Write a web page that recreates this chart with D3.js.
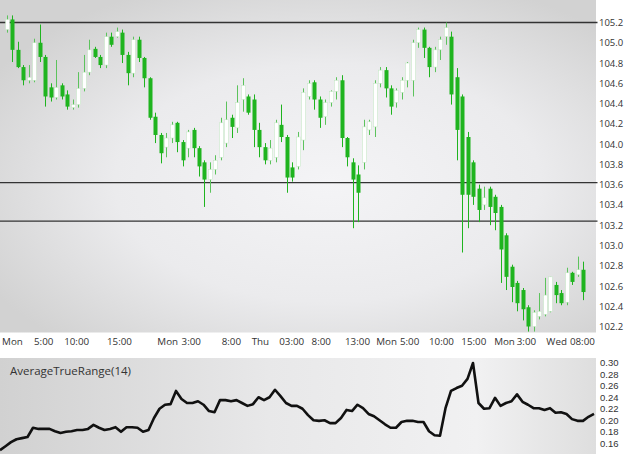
<!DOCTYPE html>
<html><head><meta charset="utf-8">
<script src="https://cdn.jsdelivr.net/npm/d3@7"></script>
<style>html,body{margin:0;padding:0;background:#fff;}svg{display:block;font-family:"Open Sans","Noto Sans",sans-serif;}</style>
</head><body><svg id="c" width="624" height="454"></svg>
<script>
// ---- data ----
const opens=[105.13,105.23,104.93,104.76,104.63,104.63,105.00,104.86,104.56,104.46,
104.58,104.49,104.36,104.39,104.55,104.71,104.94,104.86,104.78,105.06,
105.06,105.10,104.88,104.70,105.03,104.85,104.65,104.27,104.09,103.97,
104.06,104.21,104.02,103.96,104.14,103.96,103.82,103.65,103.75,103.87,
104.01,104.26,104.16,104.44,104.47,104.44,104.14,103.97,103.84,103.87,
104.19,104.07,103.77,103.78,104.04,104.47,104.61,104.44,104.27,104.41,
104.52,104.63,104.06,103.82,103.70,103.82,104.14,104.17,104.60,104.73,
104.55,104.41,104.51,104.63,104.63,105.00,105.13,104.95,104.76,104.93,
105.06,105.06,104.66,104.47,104.07,103.82,103.56,103.40,103.56,103.48,
103.38,103.10,102.79,102.63,102.56,102.39,102.20,102.30,102.32,102.35,
102.61,102.53,102.44,102.73,102.71,102.76];
const highs=[105.27,105.27,105.01,104.78,104.78,105.04,105.18,104.88,104.60,104.83,
104.60,104.53,104.44,104.71,104.88,105.03,104.96,104.88,105.10,105.10,
105.15,105.13,104.91,105.06,105.06,104.86,104.66,104.31,104.11,104.11,
104.22,104.22,104.04,104.14,104.16,103.98,103.84,103.82,103.89,104.26,
104.42,104.29,104.58,104.65,104.49,104.49,104.21,104.01,104.04,104.24,
104.39,104.09,103.82,104.12,104.55,104.63,104.63,104.47,104.44,104.53,
104.66,104.68,104.07,103.86,103.79,104.24,104.24,104.63,104.76,104.76,
104.58,104.55,104.66,104.81,105.03,105.15,105.15,104.96,104.96,105.06,
105.20,105.11,104.75,104.49,104.12,103.84,103.60,103.58,103.58,103.50,
103.40,103.12,102.81,102.65,102.58,102.41,102.36,102.53,102.68,102.69,
102.64,102.56,102.78,102.74,102.89,102.84];
const lows=[105.10,104.81,104.75,104.58,104.60,104.61,104.81,104.37,104.42,104.44,
104.44,104.34,104.34,104.36,104.52,104.68,104.85,104.75,104.75,104.96,
105.05,104.80,104.58,104.66,104.81,104.56,104.24,104.01,103.81,103.87,
104.01,103.92,103.78,103.87,103.87,103.68,103.38,103.52,103.70,103.84,
103.97,104.06,104.11,104.32,104.29,103.97,103.87,103.80,103.80,103.82,
104.02,103.52,103.63,103.75,103.94,104.44,104.34,104.16,104.19,104.37,
104.44,103.97,103.78,103.17,103.23,103.75,104.09,104.07,104.56,104.46,
104.29,104.36,104.44,104.56,104.47,104.95,104.85,104.66,104.71,104.83,
104.98,104.39,103.84,102.93,103.17,103.40,103.23,103.35,103.20,103.15,
102.63,102.56,102.44,102.35,102.26,102.15,102.15,102.27,102.30,102.34,
102.43,102.41,102.41,102.61,102.69,102.46];
const closes=[105.23,104.93,104.76,104.63,104.66,105.00,104.86,104.47,104.46,104.56,
104.47,104.37,104.39,104.55,104.71,104.93,104.86,104.78,105.06,104.98,
105.11,104.88,104.70,105.03,104.85,104.65,104.26,104.09,103.91,104.06,
104.19,104.02,103.84,104.12,103.96,103.78,103.65,103.75,103.84,104.21,
104.24,104.17,104.41,104.58,104.31,104.14,103.97,103.84,103.96,104.21,
104.07,103.67,103.67,104.07,104.51,104.60,104.44,104.26,104.41,104.52,
104.63,104.06,103.87,103.65,103.52,104.17,104.22,104.60,104.73,104.55,
104.37,104.53,104.63,104.80,105.00,105.13,104.95,104.76,104.93,105.03,
105.15,104.49,104.14,103.50,103.50,103.48,103.35,103.47,103.38,103.32,
102.96,102.69,102.59,102.43,102.37,102.20,102.34,102.35,102.51,102.69,
102.51,102.43,102.73,102.64,102.76,102.54];
const levels=[105.2,103.62,103.24];
const priceTicks=[102.2,102.4,102.6,102.8,103.0,103.2,103.4,103.6,103.8,104.0,104.2,104.4,104.6,104.8,105.0,105.2];
const timeLabels=["Mon","5:00","10:00","15:00","Mon","3:00","8:00","Thu","03:00","8:00","13:00","Mon","5:00","10:00","15:00","Mon","3:00","Wed","08:00"];
const timeLabelIdx=[0.9,6.6,12.6,20.4,29.2,33.5,40.8,46.1,51.8,57.2,63.8,69.1,73.3,79.1,85.0,90.6,94.6,100.1,104.8];
const atr=[0.148,0.155,0.162,0.167,0.169,0.171,0.187,0.185,0.185,0.185,
0.181,0.178,0.180,0.181,0.183,0.183,0.185,0.192,0.187,0.183,
0.185,0.188,0.180,0.188,0.188,0.187,0.180,0.183,0.204,0.220,
0.227,0.228,0.251,0.237,0.230,0.230,0.233,0.227,0.216,0.214,
0.235,0.235,0.233,0.235,0.230,0.225,0.228,0.240,0.235,0.240,
0.253,0.242,0.230,0.225,0.225,0.220,0.209,0.200,0.199,0.200,
0.195,0.195,0.204,0.218,0.216,0.227,0.221,0.211,0.207,0.200,
0.193,0.187,0.187,0.197,0.199,0.199,0.197,0.197,0.181,0.174,
0.173,0.221,0.251,0.256,0.260,0.272,0.2995,0.230,0.220,0.221,
0.239,0.225,0.230,0.233,0.245,0.232,0.227,0.221,0.221,0.218,
0.221,0.213,0.214,0.211,0.202,0.199,0.199,0.206,0.211];
const atrTicks=[0.16,0.18,0.20,0.22,0.24,0.26,0.28,0.30];
const atrTitle="AverageTrueRange(14)";

// ---- layout ----
const plotR=596;
const mainTop=0, mainBot=332.5, atrTop=358, atrBot=454;
const svg=d3.select("#c");
const defs=svg.append("defs");
const gm=defs.append("radialGradient").attr("id","gMain").attr("cx","55%").attr("cy","55%").attr("r","65%");
[["0%","#f4f4f6"],["55%","#ebebed"],["100%","#d2d2d2"]].forEach(s=>gm.append("stop").attr("offset",s[0]).attr("stop-color",s[1]));
const ga=defs.append("linearGradient").attr("id","gAtr").attr("x1","0").attr("x2","1").attr("y1","0").attr("y2","0");
[["0%","#d1d1d1"],["45%","#e8e8e9"],["80%","#f1f1f2"],["100%","#dedede"]].forEach(s=>ga.append("stop").attr("offset",s[0]).attr("stop-color",s[1]));

svg.append("rect").attr("x",0).attr("y",mainTop).attr("width",plotR).attr("height",mainBot-mainTop).attr("fill","url(#gMain)");
svg.append("rect").attr("x",0).attr("y",atrTop).attr("width",plotR).attr("height",atrBot-atrTop).attr("fill","url(#gAtr)");

// scales
const x=d3.scaleLinear().domain([0,opens.length-1]).range([7,583]);
const y=d3.scaleLinear().domain([102.2,105.2]).range([326.5,22.5]);
const xa=d3.scaleLinear().domain([0,atr.length-1]).range([0,594]);
const ya=d3.scaleLinear().domain([0.16,0.30]).range([443.3,362.7]);

// level lines
svg.append("g").selectAll("line").data(levels).join("line")
  .attr("x1",0).attr("x2",597.5).attr("y1",d=>y(d)).attr("y2",d=>y(d))
  .attr("stroke","#333").attr("stroke-width",1.4);

// candles
const green="#1fb41f";
const idx=d3.range(opens.length);
const cg=svg.append("g");
cg.selectAll("line.w").data(idx).join("line").attr("class","w")
  .attr("x1",i=>Math.round(x(i))+0.5).attr("x2",i=>Math.round(x(i))+0.5)
  .attr("y1",i=>y(highs[i])).attr("y2",i=>y(lows[i]))
  .attr("stroke",i=>closes[i]<opens[i]?green:"#5cc35c").attr("stroke-width",1);
const bw=4;
cg.selectAll("rect").data(idx).join("rect")
  .attr("x",i=>Math.round(x(i))+0.5-bw/2)
  .attr("y",i=>y(Math.max(opens[i],closes[i])))
  .attr("width",bw)
  .attr("height",i=>Math.max(1,Math.abs(y(opens[i])-y(closes[i]))))
  .attr("fill",i=>closes[i]<opens[i]?green:"#ffffff")
  .attr("stroke",i=>closes[i]<opens[i]?"none":"#bfe6bf")
  .attr("stroke-width",0.5);

const ff="'Open Sans','Noto Sans',sans-serif";
// right price axis
const yAxis=d3.axisRight(y).tickValues(priceTicks).tickFormat(d3.format(".1f")).tickSize(0).tickPadding(0);
const gy=svg.append("g").attr("transform","translate(599,0)").call(yAxis);
gy.select(".domain").remove();
gy.selectAll("text").attr("font-size",9.5).attr("fill","#333").attr("font-family",ff);

// time axis
const xAxis=d3.axisBottom(x).tickValues(timeLabelIdx).tickFormat((d,i)=>timeLabels[i]).tickSize(0).tickPadding(0);
const gx=svg.append("g").attr("transform","translate(0,338)").call(xAxis);
gx.select(".domain").remove();
gx.selectAll("text").attr("font-size",9.8).attr("fill","#333").attr("font-family",ff);

// ATR
svg.append("path").datum(atr)
  .attr("d",d3.line().x((d,i)=>xa(i)).y(d=>ya(d)).curve(d3.curveLinear))
  .attr("fill","none").attr("stroke","#111").attr("stroke-width",2.6).attr("stroke-linejoin","round");
const aAxis=d3.axisRight(ya).tickValues(atrTicks).tickFormat(d3.format(".2f")).tickSize(0).tickPadding(0);
const gA=svg.append("g").attr("transform","translate(600,0)").call(aAxis);
gA.select(".domain").remove();
gA.selectAll("text").attr("font-size",9.5).attr("fill","#333").attr("font-family","'Liberation Sans',Arial,sans-serif");
svg.append("text").attr("x",10).attr("y",375).text(atrTitle)
  .attr("font-size",11.5).attr("fill","#333");
</script></body></html>
